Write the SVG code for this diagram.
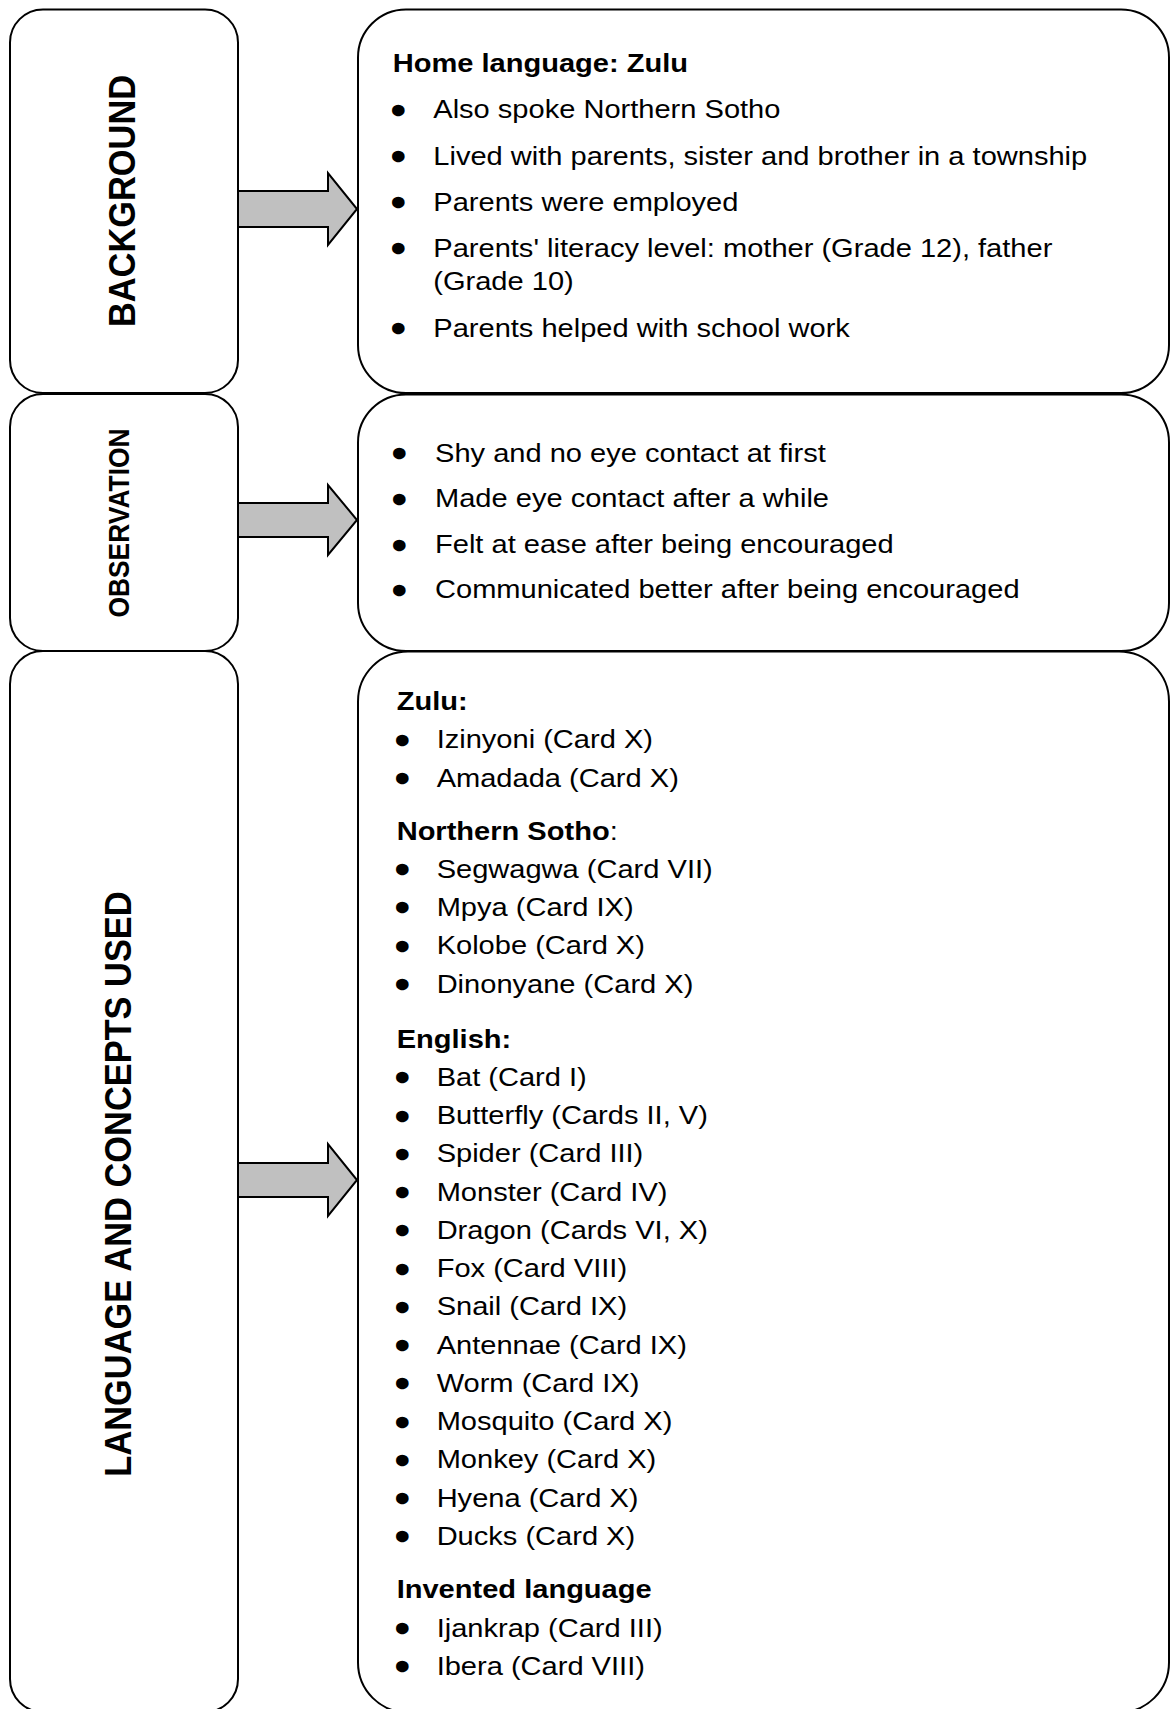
<svg xmlns="http://www.w3.org/2000/svg" width="1171" height="1709" viewBox="0 0 1171 1709">
<style>
.box{fill:#fff;stroke:#000;stroke-width:2}
.arr{fill:#c0c0c0;stroke:#000;stroke-width:2;stroke-linejoin:miter}
text{font-family:"Liberation Sans",Arial,sans-serif;fill:#000}
.t{font-size:26.67px}
.h{font-size:26.67px;font-weight:bold}
.b{font-size:33px;text-anchor:middle;stroke:#000;stroke-width:2.6px;stroke-linejoin:round}
.v{font-weight:bold;text-anchor:middle}
</style>
<rect width="1171" height="1709" fill="#fff"/>

<g id="background-label">
<rect class="box" x="10" y="9.5" width="228" height="383.5" rx="33" ry="33"/>
<text class="v" font-size="34.4" transform="translate(135,201) scale(1.09,1) rotate(-90)">BACKGROUND</text>
</g>
<g id="observation-label">
<rect class="box" x="10" y="394" width="228" height="257" rx="33" ry="33"/>
<text class="v" font-size="26.4" transform="translate(129,523) scale(1.09,1) rotate(-90)">OBSERVATION</text>
</g>
<g id="language-label">
<rect class="box" x="10" y="651" width="228" height="1061" rx="33" ry="33"/>
<text class="v" font-size="34.4" transform="translate(131,1184) scale(1.09,1) rotate(-90)">LANGUAGE AND CONCEPTS USED</text>
</g>

<g id="background-details">
<rect class="box" x="358" y="9.5" width="811" height="383.5" rx="48" ry="48"/>
<g transform="scale(1.09,1)">
<text class="h" x="360.3" y="71.7">Home language: Zulu</text>
<text class="b" x="365.4" y="121.6">•</text><text class="t" x="397.5" y="118.3">Also spoke Northern Sotho</text>
<text class="b" x="365.4" y="168.3">•</text><text class="t" x="397.5" y="165">Lived with parents, sister and brother in a township</text>
<text class="b" x="365.4" y="214">•</text><text class="t" x="397.5" y="210.7">Parents were employed</text>
<text class="b" x="365.4" y="260">•</text><text class="t" x="397.5" y="256.7">Parents' literacy level: mother (Grade 12), father</text>
<text class="t" x="397.5" y="290">(Grade 10)</text>
<text class="b" x="365.4" y="340">•</text><text class="t" x="397.5" y="336.7">Parents helped with school work</text>
</g>
</g>

<g id="observation-details">
<rect class="box" x="358" y="394.5" width="811" height="256.5" rx="48" ry="48"/>
<g transform="scale(1.09,1)">
<text class="b" x="366.3" y="465">•</text><text class="t" x="399.1" y="461.7">Shy and no eye contact at first</text>
<text class="b" x="366.3" y="510.6">•</text><text class="t" x="399.1" y="507.3">Made eye contact after a while</text>
<text class="b" x="366.3" y="556.6">•</text><text class="t" x="399.1" y="553.3">Felt at ease after being encouraged</text>
<text class="b" x="366.3" y="601.6">•</text><text class="t" x="399.1" y="598.3">Communicated better after being encouraged</text>
</g>
</g>

<g id="language-details">
<rect class="box" x="358" y="651.5" width="811" height="1061" rx="50" ry="50"/>
<g transform="scale(1.09,1)">
<text class="h" x="363.9" y="710">Zulu:</text>
<text class="b" x="369.1" y="751.6">•</text><text class="t" x="400.6" y="748.3">Izinyoni (Card X)</text>
<text class="b" x="369.1" y="790">•</text><text class="t" x="400.6" y="786.7">Amadada (Card X)</text>
<text class="t" x="363.9" y="840"><tspan font-weight="bold">Northern Sotho</tspan>:</text>
<text class="b" x="369.1" y="881">•</text><text class="t" x="400.6" y="877.7">Segwagwa (Card VII)</text>
<text class="b" x="369.1" y="919.3">•</text><text class="t" x="400.6" y="916">Mpya (Card IX)</text>
<text class="b" x="369.1" y="957.6">•</text><text class="t" x="400.6" y="954.3">Kolobe (Card X)</text>
<text class="b" x="369.1" y="996">•</text><text class="t" x="400.6" y="992.7">Dinonyane (Card X)</text>
<text class="h" x="363.9" y="1048">English:</text>
<text class="b" x="369.1" y="1089.3">•</text><text class="t" x="400.6" y="1086">Bat (Card I)</text>
<text class="b" x="369.1" y="1127.55">•</text><text class="t" x="400.6" y="1124.25">Butterfly (Cards II, V)</text>
<text class="b" x="369.1" y="1165.8">•</text><text class="t" x="400.6" y="1162.5">Spider (Card III)</text>
<text class="b" x="369.1" y="1204.05">•</text><text class="t" x="400.6" y="1200.75">Monster (Card IV)</text>
<text class="b" x="369.1" y="1242.3">•</text><text class="t" x="400.6" y="1239">Dragon (Cards VI, X)</text>
<text class="b" x="369.1" y="1280.55">•</text><text class="t" x="400.6" y="1277.25">Fox (Card VIII)</text>
<text class="b" x="369.1" y="1318.8">•</text><text class="t" x="400.6" y="1315.5">Snail (Card IX)</text>
<text class="b" x="369.1" y="1357.05">•</text><text class="t" x="400.6" y="1353.75">Antennae (Card IX)</text>
<text class="b" x="369.1" y="1395.3">•</text><text class="t" x="400.6" y="1392">Worm (Card IX)</text>
<text class="b" x="369.1" y="1433.55">•</text><text class="t" x="400.6" y="1430.25">Mosquito (Card X)</text>
<text class="b" x="369.1" y="1471.8">•</text><text class="t" x="400.6" y="1468.5">Monkey (Card X)</text>
<text class="b" x="369.1" y="1510.05">•</text><text class="t" x="400.6" y="1506.75">Hyena (Card X)</text>
<text class="b" x="369.1" y="1548.3">•</text><text class="t" x="400.6" y="1545">Ducks (Card X)</text>
<text class="h" x="363.9" y="1598.3">Invented language</text>
<text class="b" x="369.1" y="1640">•</text><text class="t" x="400.6" y="1636.7">Ijankrap (Card III)</text>
<text class="b" x="369.1" y="1678.3">•</text><text class="t" x="400.6" y="1675">Ibera (Card VIII)</text>
</g>
</g>

<g id="connectors">
<polygon class="arr" points="238,191 328,191 328,173 357,209 328,245 328,227 238,227"/>
<polygon class="arr" points="238,503 328,503 328,485 357,520 328,555 328,537 238,537"/>
<polygon class="arr" points="238,1163 328,1163 328,1144 357,1180 328,1216 328,1197 238,1197"/>
</g>
</svg>
